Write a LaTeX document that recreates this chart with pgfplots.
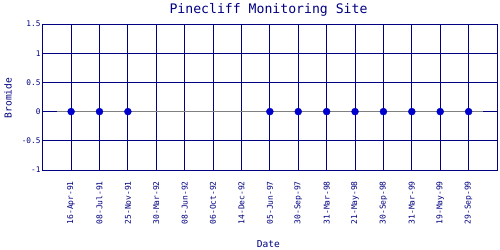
\documentclass[border=0pt]{standalone}
\usepackage{fontspec}
\setmainfont{DejaVu Sans Mono}
\usepackage{pgfplots}
\pgfplotsset{compat=1.18}
\definecolor{gridnavy}{RGB}{0,0,128}
\definecolor{dotblue}{RGB}{0,0,204}
\definecolor{linegray}{RGB}{128,128,128}
\begin{document}
\begin{tikzpicture}
\useasboundingbox (0,0) rectangle (500bp,250bp);
\begin{axis}[
  at={(42.7bp,80bp)}, anchor=south west,
  scale only axis, width=454.3bp, height=146bp,
  xmin=-1, xmax=15, ymin=-1, ymax=1.5,
  xtick={0,...,14},
  xticklabels={16-Apr-91,08-Jul-91,25-Nov-91,30-Mar-92,08-Jun-92,06-Oct-92,14-Dec-92,05-Jun-97,30-Sep-97,31-Mar-98,21-May-98,30-Sep-98,31-Mar-99,19-May-99,29-Sep-99},
  ytick={-1,-0.5,0,0.5,1,1.5},
  yticklabels={-1,-0.5,0,0.5,1,1.5},
  major tick length=0pt,
  grid=major,
  major grid style={gridnavy, line width=1bp},
  axis line style={gridnavy, line width=1bp},
  xticklabel style={rotate=90, anchor=east, font=\fontsize{8}{8}\selectfont, text=gridnavy, inner sep=0pt},
  xticklabel shift=11bp,
  yticklabel style={anchor=east, font=\fontsize{7.8}{8}\selectfont, text=gridnavy, inner sep=0pt},
  yticklabel shift=2bp,
  title={Pinecliff Monitoring Site},
  title style={at={(axis description cs:0.497,1.0733)}, anchor=base, yshift=-6pt, font=\fontsize{13.2}{14}\selectfont, text=gridnavy},
  xlabel={Date},
  xlabel style={at={(axis description cs:0.4966,-0.532)}, anchor=base, font=\fontsize{9.6}{10}\selectfont, text=gridnavy},
  ylabel={Bromide},
  ylabel style={at={(axis description cs:-0.0682,0.493)}, anchor=base, rotate=0, font=\fontsize{9.6}{10}\selectfont, text=gridnavy},
  clip=false,
]
\addplot[linegray, line width=1bp, no markers] coordinates {(-0.5,0) (14.5,0)};
\addplot[only marks, mark=*, mark size=3.5bp, dotblue, mark options={fill=dotblue, draw=dotblue}] coordinates {
(0,0) (1,0) (2,0) (7,0) (8,0) (9,0) (10,0) (11,0) (12,0) (13,0) (14,0)};
\end{axis}
\end{tikzpicture}
\end{document}
